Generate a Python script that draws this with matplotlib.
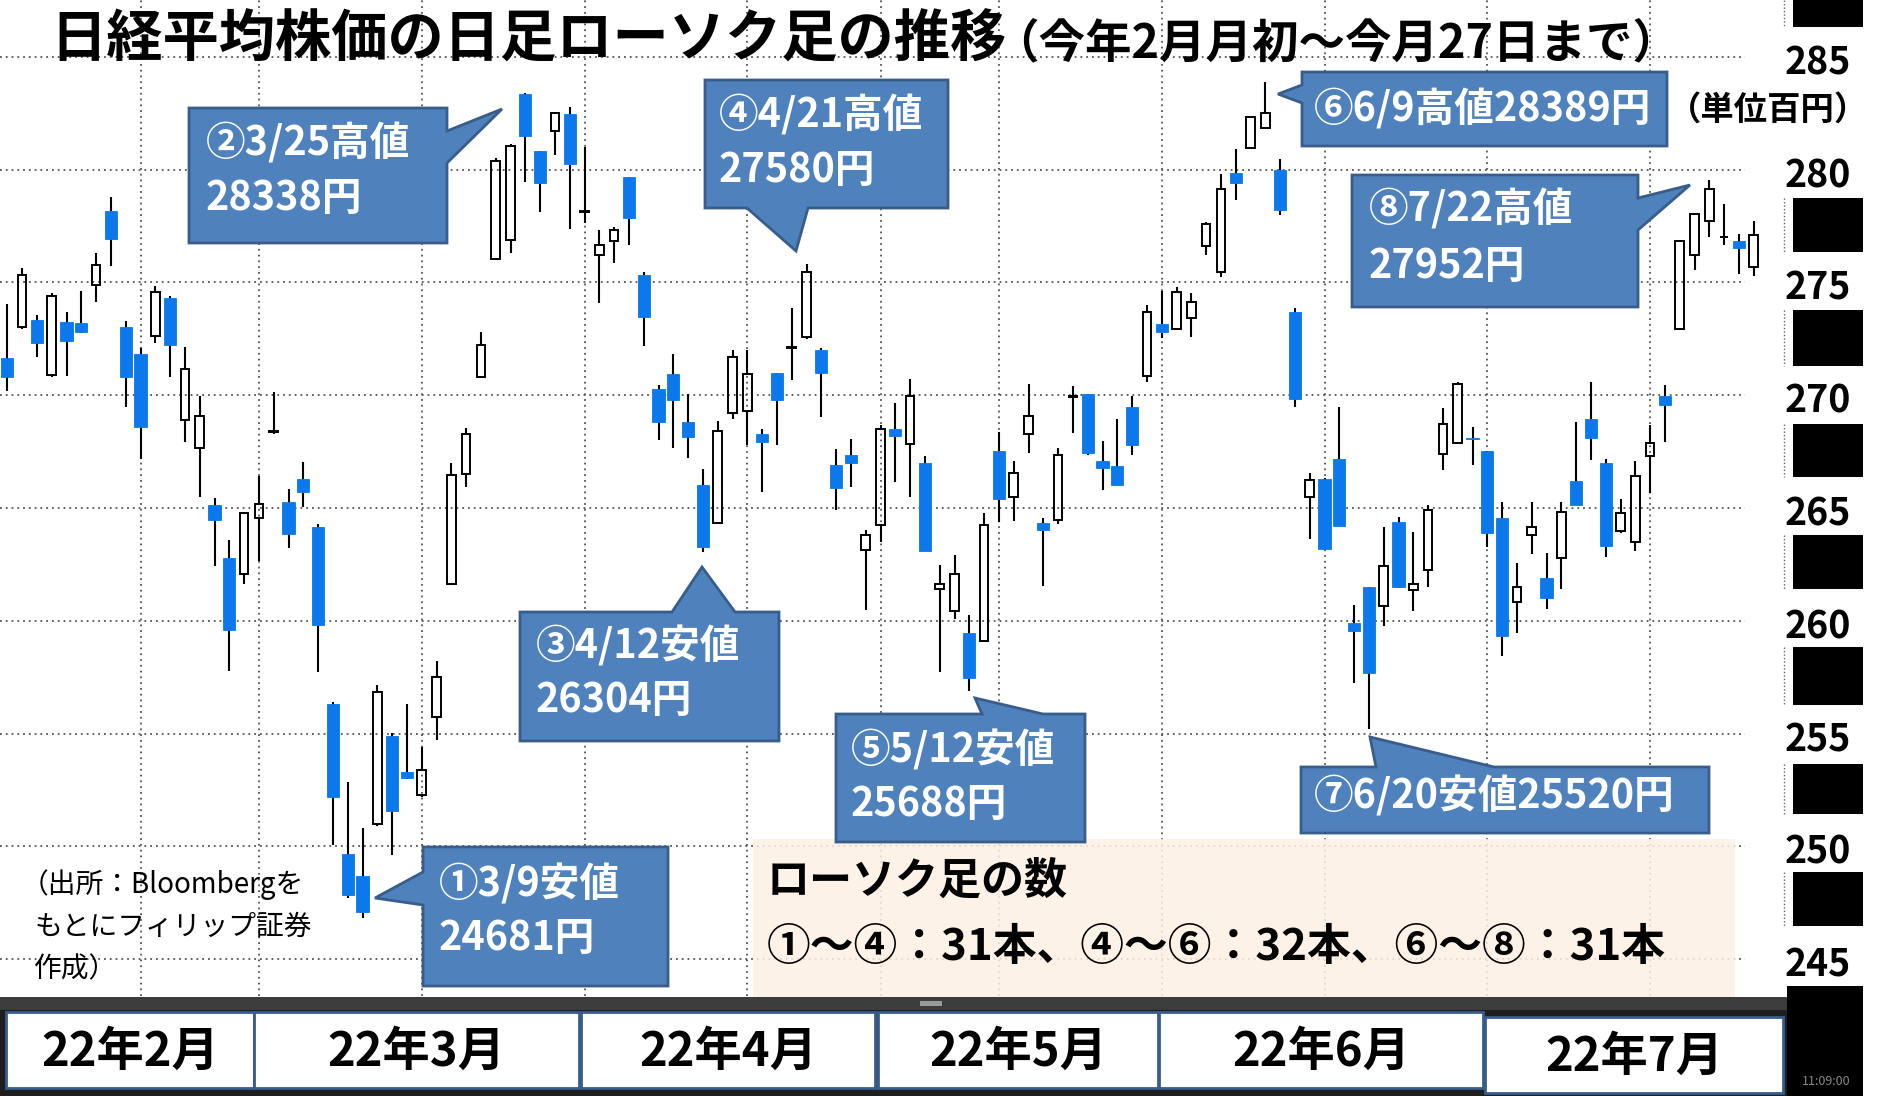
import matplotlib
matplotlib.use("Agg")
import matplotlib.pyplot as plt
from matplotlib.patches import Rectangle, Polygon

plt.rcParams['font.family'] = ['Noto Sans CJK JP', 'DejaVu Sans']

# ---------------- data (daily candles, yen) ----------------
dates = ['2/1', '2/2', '2/3', '2/4', '2/7', '2/8', '2/9', '2/10', '2/14', '2/15', '2/16', '2/17', '2/18',
         '2/21', '2/22', '2/24', '2/25', '2/28',
         '3/1', '3/2', '3/3', '3/4', '3/7', '3/8', '3/9', '3/10', '3/11', '3/14', '3/15', '3/16', '3/17',
         '3/18', '3/22', '3/23', '3/24', '3/25', '3/28', '3/29', '3/30', '3/31',
         '4/1', '4/4', '4/5', '4/6', '4/7', '4/8', '4/11', '4/12', '4/13', '4/14', '4/15', '4/18', '4/19',
         '4/20', '4/21', '4/22', '4/25', '4/26', '4/27', '4/28',
         '5/2', '5/6', '5/9', '5/10', '5/11', '5/12', '5/13', '5/16', '5/17', '5/18', '5/19', '5/20',
         '5/23', '5/24', '5/25', '5/26', '5/27', '5/30', '5/31',
         '6/1', '6/2', '6/3', '6/6', '6/7', '6/8', '6/9', '6/10', '6/13', '6/14', '6/15', '6/16', '6/17',
         '6/20', '6/21', '6/22', '6/23', '6/24', '6/27', '6/28', '6/29', '6/30',
         '7/1', '7/4', '7/5', '7/6', '7/7', '7/8', '7/11', '7/12', '7/13', '7/14', '7/15', '7/19', '7/20',
         '7/21', '7/22', '7/25', '7/26', '7/27']

opens = [27164, 27303, 27332, 27090, 27324, 27319, 27489, 27818, 27303, 27185, 27264, 27433, 26892,
         26765, 26515, 26278, 26208, 26456,
         26836, 26528, 26627, 26417, 25631, 24966, 24869, 25099, 25489, 25331, 25228, 25572, 26162,
         26649, 27081, 27604, 27689, 28337, 28082, 28172, 28248, 27814,
         27621, 27685, 27966, 27533, 27026, 27094, 26880, 26602, 26432, 26923, 26930, 26828, 27097,
         27208, 27257, 27200, 26691, 26735, 26314, 26425,
         26849, 26782, 26701, 26142, 26045, 25945, 25912, 26754, 26550, 26828, 26432, 26447,
         26992, 27004, 26708, 26686, 26946, 27085, 27316,
         27293, 27341, 27661, 27548, 27986, 28097, 28186, 27998, 27370, 26550, 26627, 26716, 25989,
         26151, 26066, 26440, 26137, 26225, 26738, 26790, 26812, 26754,
         26454, 26082, 26380, 26188, 26277, 26620, 26893, 26698, 26400, 26351, 26731, 26996, 27293,
         27621, 27772, 27700, 27684, 27570]

highs = [27406, 27565, 27356, 27454, 27371, 27462, 27631, 27878, 27327, 27208, 27485, 27438, 27216,
         26998, 26543, 26358, 26480, 26643,
         27014, 26583, 26702, 26430, 25641, 25287, 25080, 25715, 25501, 25630, 25442, 25823, 26701,
         26857, 27281, 28053, 28113, 28338, 28082, 28253, 28279, 28099,
         27731, 27748, 27966, 27548, 27045, 27183, 27005, 26671, 26887, 27200, 27200, 26849, 27100,
         27385, 27580, 27208, 26760, 26804, 26403, 26868,
         26964, 27072, 26731, 26247, 26292, 26026, 26476, 26838, 26710, 27050, 26454, 26767,
         27041, 27004, 26798, 26893, 26996, 27400, 27463,
         27478, 27452, 27769, 27981, 28090, 28232, 28389, 28046, 27385, 26657, 26631, 26946, 26070,
         26152, 26417, 26461, 26395, 26513, 26942, 27057, 26858, 26755,
         26528, 26255, 26528, 26299, 26528, 26880, 27057, 26716, 26539, 26710, 26868, 27045, 27688,
         27802, 27952, 27848, 27713, 27772]

lows = [27018, 27295, 27169, 27079, 27086, 27275, 27414, 27572, 26950, 26718, 27232, 27082, 26792,
        26548, 26243, 25776, 26164, 26266,
        26830, 26322, 26504, 25774, 25006, 24770, 24681, 25090, 24962, 25298, 25220, 25472, 26158,
        26594, 27078, 27600, 27629, 27946, 27811, 28067, 27739, 27765,
        27409, 27587, 27666, 27218, 26802, 26765, 26720, 26304, 26430, 26893, 26779, 26572, 26779,
        27067, 27250, 26905, 26491, 26592, 26048, 26351,
        26617, 26550, 26308, 25775, 26007, 25688, 25910, 26437, 26444, 26742, 26154, 26429,
        26831, 26735, 26580, 26600, 26735, 27060, 27252,
        27290, 27257, 27621, 27525, 27865, 28095, 28184, 27799, 26949, 26361, 26315, 26420, 25723,
        25520, 25977, 26146, 26045, 26148, 26669, 26788, 26691, 26329,
        25844, 25945, 26296, 26051, 26140, 26513, 26713, 26281, 26390, 26311, 26565, 26794, 27290,
        27555, 27700, 27666, 27537, 27530]

closes = [27079, 27533, 27232, 27438, 27240, 27280, 27577, 27694, 27079, 26860, 27458, 27224, 27117,
          26908, 26445, 25961, 26477, 26520,
          26840, 26385, 26570, 25981, 25218, 24785, 24711, 25686, 25158, 25302, 25339, 25752, 26645,
          26827, 27222, 28040, 28104, 28150, 27940, 28253, 28024, 27818,
          27666, 27734, 27784, 27345, 26883, 26979, 26816, 26326, 26843, 27168, 27094, 26794, 26979,
          27213, 27548, 27100, 26587, 26698, 26380, 26849,
          26819, 26997, 26311, 26163, 26208, 25745, 26425, 26540, 26657, 26908, 26403, 26735,
          26996, 26742, 26676, 26602, 26779, 27370, 27282,
          27459, 27415, 27757, 27913, 27939, 28232, 28249, 27821, 26982, 26624, 26317, 26422, 25956,
          25767, 26244, 26148, 26162, 26491, 26872, 27050, 26805, 26388,
          25933, 26148, 26417, 26103, 26481, 26513, 26809, 26333, 26476, 26642, 26790, 26957, 27685,
          27802, 27913, 27702, 27651, 27710]

y_tick_values = [245, 250, 255, 260, 265, 270, 275, 280, 285]          # 百円
grid_dates = ['2/15', '2/28', '3/15', '3/31', '4/15', '4/28', '5/16', '5/31', '6/15', '6/30', '7/15']
month_labels = ['22年2月', '22年3月', '22年4月', '22年5月', '22年6月', '22年7月']

title_main = '日経平均株価の日足ローソク足の推移'
title_sub = '（今年2月月初～今月27日まで）'
unit_label = '（単位百円）'
source_lines = ['（出所：Bloombergを', 'もとにフィリップ証券', '作成）']
count_title = 'ローソク足の数'
count_text = '①～④：31本、④～⑥：32本、⑥～⑧：31本'

# ---------------- layout constants (pixels) ----------------
W, H = 1880, 1096
PX_X0, PX_DX = 7.3, 14.8
Y_TOP, PX_PER_YEN = 28752.0, 0.2256
AX_BOTTOM_PX, AX_RIGHT_PX = 996, 1790

BLUE = '#0b78ec'
BOX_FACE = '#4f81bd'
BOX_EDGE = '#385d8a'

fig = plt.figure(figsize=(W / 100, H / 100), dpi=100)
fig.patch.set_facecolor('white')

ax = fig.add_axes([0, (H - AX_BOTTOM_PX) / H, AX_RIGHT_PX / W, AX_BOTTOM_PX / H])
ax.set_xlim(-PX_X0 / PX_DX, (AX_RIGHT_PX - PX_X0) / PX_DX)
ax.set_ylim(Y_TOP - AX_BOTTOM_PX / PX_PER_YEN, Y_TOP)
ax.axis('off')

grid_kw = dict(color='#555555', lw=1.3, linestyle=(0, (1, 2.2)), zorder=1)
x_grid_end = (1745 - PX_X0) / PX_DX
for v in y_tick_values:
    ax.plot([ax.get_xlim()[0], x_grid_end], [v * 100, v * 100], **grid_kw)
for d in grid_dates:
    xi = dates.index(d)
    ax.plot([xi, xi], list(ax.get_ylim()), **grid_kw)

for i, (o, h, l, c) in enumerate(zip(opens, highs, lows, closes)):
    if c >= o:
        wb = 0.58
        ax.plot([i, i], [max(o, c), h], color='black', lw=1.5, zorder=2, solid_capstyle='butt')
        ax.plot([i, i], [l, min(o, c)], color='black', lw=1.5, zorder=2, solid_capstyle='butt')
        ax.add_patch(Rectangle((i - wb / 2, o), wb, c - o, facecolor='none',
                               edgecolor='black', lw=1.4, zorder=3))
    else:
        wb = 0.82
        ax.plot([i, i], [l, h], color='black', lw=1.5, zorder=2, solid_capstyle='butt')
        ax.add_patch(Rectangle((i - wb / 2, c), wb, o - c, facecolor=BLUE,
                               edgecolor=BLUE, lw=0.6, zorder=3))

# ---------------- overlay (pixel coordinates) ----------------
ov = fig.add_axes([0, 0, 1, 1], zorder=5)
ov.set_xlim(0, W)
ov.set_ylim(H, 0)
ov.axis('off')
ov.patch.set_alpha(0)


def py(v_hundreds):
    return (Y_TOP - v_hundreds * 100) * PX_PER_YEN


# title
ov.text(50, 57, title_main, fontsize=40.5, fontweight='bold', color='black', va='baseline', ha='left')
ov.text(992, 57, title_sub, fontsize=33.5, fontweight='bold', color='black', va='baseline', ha='left')

# right axis column
for y0, y1 in [(0, 27), (198, 252), (310, 366), (424, 477), (535, 589), (647, 705),
               (764, 814), (872, 926)]:
    ov.add_patch(Rectangle((1793, y0), 70, y1 - y0, facecolor='black', edgecolor='none'))
    ov.plot([1784, 1784], [y0, y1], color='#666666', lw=1.0, linestyle=(0, (1, 1.5)))
ov.add_patch(Rectangle((1787, 986), 76, H - 986, facecolor='black', edgecolor='none'))
ov.text(1826, 1088, '11:09:00', fontsize=9, color='#888888', ha='center', va='bottom')
for v in y_tick_values:
    ov.text(1818, py(v) + 6, f'{v}', fontsize=27, fontweight='bold', color='black',
            ha='center', va='center')
ov.text(1668, 110, unit_label, fontsize=24, fontweight='bold', color='black', ha='left', va='center')

# source note
for k, s in enumerate(source_lines):
    ov.text(21 if k == 0 else 34, 885 + 42 * k, s, fontsize=20, color='black', ha='left', va='center')

# count box
ov.add_patch(Rectangle((753, 839), 982, 158, facecolor='#fdf0e4', edgecolor='none', alpha=0.85))
ov.text(767, 881, count_title, fontsize=31, fontweight='bold', color='black', ha='left', va='center')
ov.text(767, 947, count_text, fontsize=31.5, fontweight='bold', color='black', ha='left', va='center')

# callouts
callouts = [
    ([(189, 108), (447, 108), (447, 131), (502, 109), (447, 163), (447, 243), (189, 243)],
     ['②3/25高値', '28338円'], 206, [144, 198]),
    ([(705, 80), (948, 80), (948, 208), (808, 208), (796, 251), (747, 208), (705, 208)],
     ['④4/21高値', '27580円'], 719, [116, 170]),
    ([(1302, 72), (1667, 72), (1667, 146), (1302, 146), (1302, 103), (1278, 94), (1302, 85)],
     ['⑥6/9高値28389円'], 1314, [110]),
    ([(1352, 175), (1638, 175), (1638, 198), (1690, 185), (1638, 230), (1638, 307), (1352, 307)],
     ['⑧7/22高値', '27952円'], 1369, [210, 266]),
    ([(520, 612), (672, 612), (702, 567), (735, 612), (779, 612), (779, 741), (520, 741)],
     ['③4/12安値', '26304円'], 536, [647, 701]),
    ([(836, 714), (982, 714), (975, 698), (1043, 714), (1085, 714), (1085, 842), (836, 842)],
     ['⑤5/12安値', '25688円'], 851, [751, 805]),
    ([(1301, 767), (1376, 767), (1370, 737), (1494, 767), (1709, 767), (1709, 833), (1301, 833)],
     ['⑦6/20安値25520円'], 1314, [797]),
    ([(423, 847), (668, 847), (668, 986), (423, 986), (423, 905), (375, 898), (423, 872)],
     ['①3/9安値', '24681円'], 439, [885, 938]),
]
for verts, lines, tx, tys in callouts:
    ov.add_patch(Polygon(verts, closed=True, facecolor=BOX_FACE, edgecolor=BOX_EDGE, lw=2.0,
                         joinstyle='miter'))
    for s, ty in zip(lines, tys):
        ov.text(tx, ty, s, fontsize=28.5, fontweight='bold', color='white', ha='left', va='center')

# bottom month bar
ov.add_patch(Rectangle((0, 997), 1787, 13, facecolor='#3c3c3c', edgecolor='none'))
ov.add_patch(Rectangle((0, 1010), 1787, H - 1010, facecolor='#1e1e1e', edgecolor='none'))
ov.add_patch(Rectangle((920, 1001), 22, 5, facecolor='#9a9a9a', edgecolor='none'))
month_spans = [(6, 254), (254, 579), (581, 875), (878, 1158), (1159, 1483), (1485, 1783)]
for k, ((x0, x1), lab) in enumerate(zip(month_spans, month_labels)):
    y0 = 1012 if k < 5 else 1017
    ov.add_patch(Rectangle((x0, y0), x1 - x0, 76, facecolor='white', edgecolor=BOX_EDGE, lw=2.0))
    ov.text((x0 + x1) / 2, y0 + 40, lab, fontsize=34, fontweight='bold', color='black',
            ha='center', va='center')

fig.savefig('out.png', dpi=100)
